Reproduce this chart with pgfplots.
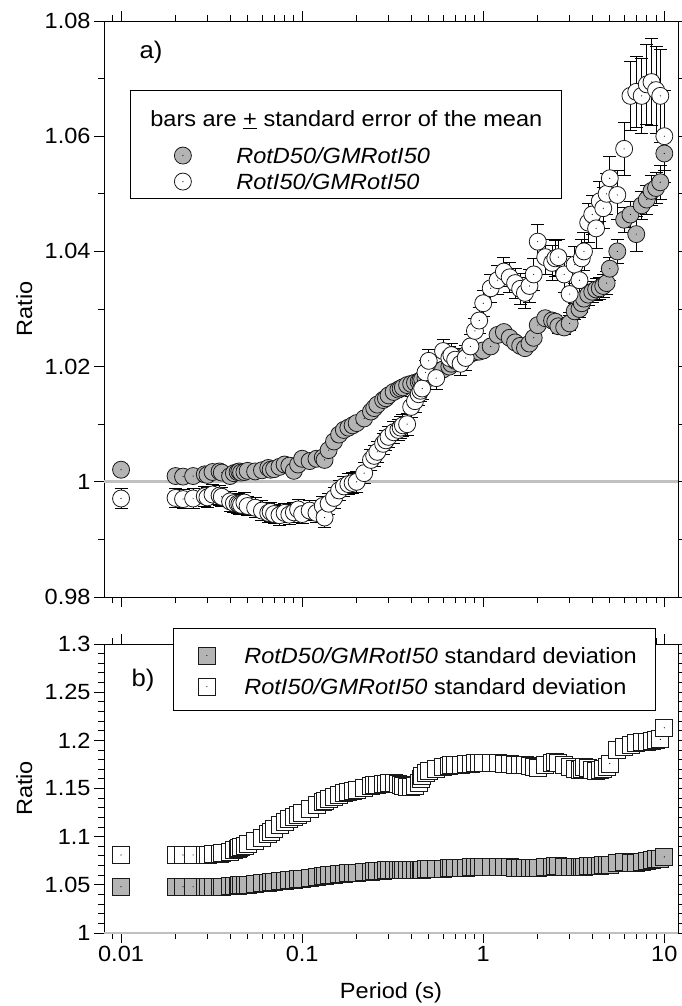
\documentclass[border=0pt]{standalone}
\usepackage{pgfplots}
\pgfplotsset{compat=1.18}
\usepackage{pgfplotstable}
\usepackage{fontspec}
\setmainfont{Liberation Sans}[FakeStretch=1.07]
\definecolor{mgray}{RGB}{180,180,180}
\definecolor{mline}{RGB}{25,25,25}
\definecolor{lgray}{RGB}{192,192,192}

\pgfdeclareplotmark{circD}{%
 \pgfpathcircle{\pgfpointorigin}{\pgfplotmarksize}%
 \pgfsetfillcolor{mgray}\pgfsetstrokecolor{mline}%
 \pgfusepathqfillstroke
 \pgfpathcircle{\pgfpointorigin}{0.6pt}%
 \pgfsetfillcolor{black}\pgfusepathqfill}
\pgfdeclareplotmark{circI}{%
 \pgfpathcircle{\pgfpointorigin}{\pgfplotmarksize}%
 \pgfsetfillcolor{white}\pgfsetstrokecolor{mline}%
 \pgfusepathqfillstroke
 \pgfpathcircle{\pgfpointorigin}{0.6pt}%
 \pgfsetfillcolor{black}\pgfusepathqfill}
\pgfdeclareplotmark{sqD}{%
 \pgfpathrectangle{\pgfpoint{-\pgfplotmarksize}{-\pgfplotmarksize}}{\pgfpoint{2\pgfplotmarksize}{2\pgfplotmarksize}}%
 \pgfsetfillcolor{mgray}\pgfsetstrokecolor{mline}%
 \pgfusepathqfillstroke
 \pgfpathcircle{\pgfpointorigin}{0.6pt}%
 \pgfsetfillcolor{black}\pgfusepathqfill}
\pgfdeclareplotmark{sqI}{%
 \pgfpathrectangle{\pgfpoint{-\pgfplotmarksize}{-\pgfplotmarksize}}{\pgfpoint{2\pgfplotmarksize}{2\pgfplotmarksize}}%
 \pgfsetfillcolor{white}\pgfsetstrokecolor{mline}%
 \pgfusepathqfillstroke
 \pgfpathcircle{\pgfpointorigin}{0.6pt}%
 \pgfsetfillcolor{black}\pgfusepathqfill}

% T  RotD50/GMRotI50 (mean, s.e.)  RotI50/GMRotI50 (mean, s.e.)
\pgfplotstableread{
T D De I Ie
0.01 1.0021 0.0004 0.9971 0.0018
0.02 1.0010 0.0004 0.9972 0.0017
0.022 1.0009 0.0004 0.9970 0.0017
0.025 1.0010 0.0004 0.9971 0.0017
0.029 1.0013 0.0004 0.9975 0.0017
0.03 1.0012 0.0004 0.9973 0.0017
0.032 1.0017 0.0004 0.9978 0.0017
0.035 1.0018 0.0004 0.9976 0.0017
0.036 1.0016 0.0004 0.9974 0.0017
0.04 1.0010 0.0004 0.9966 0.0017
0.042 1.0015 0.0004 0.9963 0.0017
0.044 1.0017 0.0004 0.9962 0.0017
0.045 1.0018 0.0004 0.9961 0.0017
0.046 1.0016 0.0004 0.9960 0.0017
0.048 1.0017 0.0004 0.9964 0.0017
0.05 1.0019 0.0004 0.9958 0.0017
0.055 1.0018 0.0004 0.9955 0.0017
0.06 1.0020 0.0004 0.9950 0.0017
0.065 1.0024 0.0004 0.9946 0.0017
0.067 1.0021 0.0004 0.9948 0.0017
0.07 1.0022 0.0004 0.9944 0.0017
0.075 1.0026 0.0004 0.9942 0.0017
0.08 1.0030 0.0004 0.9946 0.0017
0.085 1.0028 0.0004 0.9943 0.0017
0.09 1.0019 0.0004 0.9947 0.0017
0.095 1.0030 0.0004 0.9952 0.0017
0.1 1.0040 0.0004 0.9944 0.0017
0.11 1.0036 0.0004 0.9950 0.0017
0.12 1.0040 0.0004 0.9946 0.0017
0.13 1.0042 0.0004 0.9958 0.0017
0.133 1.0038 0.0004 0.9938 0.0018
0.14 1.0055 0.0004 0.9962 0.0018
0.15 1.0070 0.0004 0.9972 0.0018
0.16 1.0082 0.0004 0.9985 0.0018
0.17 1.0090 0.0004 0.9992 0.0018
0.18 1.0094 0.0004 0.9996 0.0018
0.19 1.0098 0.0004 0.9998 0.0018
0.2 1.0102 0.0004 1.0000 0.0018
0.22 1.0110 0.0004 1.0015 0.0018
0.24 1.0122 0.0004 1.0038 0.0018
0.25 1.0128 0.0004 1.0045 0.0018
0.26 1.0134 0.0004 1.0052 0.0018
0.28 1.0142 0.0004 1.0066 0.0018
0.29 1.0145 0.0004 1.0072 0.0018
0.3 1.0150 0.0004 1.0078 0.0018
0.32 1.0156 0.0004 1.0086 0.0019
0.34 1.0160 0.0004 1.0090 0.0019
0.35 1.0162 0.0004 1.0094 0.0019
0.36 1.0164 0.0004 1.0098 0.0019
0.38 1.0168 0.0004 1.0100 0.0019
0.4 1.0170 0.0005 1.0130 0.0019
0.42 1.0172 0.0005 1.0140 0.0019
0.44 1.0174 0.0005 1.0152 0.0019
0.45 1.0176 0.0005 1.0158 0.0019
0.46 1.0178 0.0005 1.0162 0.0019
0.48 1.0180 0.0005 1.0190 0.0020
0.5 1.0180 0.0005 1.0210 0.0020
0.55 1.0185 0.0005 1.0180 0.0020
0.6 1.0195 0.0005 1.0227 0.0020
0.65 1.0200 0.0005 1.0215 0.0020
0.667 1.0205 0.0005 1.0220 0.0020
0.7 1.0210 0.0005 1.0212 0.0020
0.75 1.0215 0.0005 1.0205 0.0021
0.8 1.0220 0.0005 1.0215 0.0021
0.85 1.0222 0.0005 1.0235 0.0021
0.9 1.0225 0.0006 1.0262 0.0022
0.95 1.0226 0.0006 1.0280 0.0022
1 1.0228 0.0006 1.0310 0.0023
1.1 1.0235 0.0007 1.0336 0.0024
1.2 1.0255 0.0007 1.0350 0.0025
1.3 1.0260 0.0007 1.0365 0.0025
1.4 1.0250 0.0008 1.0355 0.0026
1.5 1.0242 0.0008 1.0345 0.0026
1.6 1.0236 0.0008 1.0335 0.0027
1.7 1.0232 0.0009 1.0328 0.0027
1.8 1.0240 0.0009 1.0340 0.0028
1.9 1.0250 0.0009 1.0360 0.0028
2 1.0272 0.0010 1.0417 0.0030
2.2 1.0284 0.0010 1.0390 0.0030
2.4 1.0280 0.0011 1.0380 0.0030
2.5 1.0278 0.0011 1.0388 0.0031
2.6 1.0270 0.0012 1.0390 0.0031
2.8 1.0268 0.0012 1.0360 0.0031
3 1.0275 0.0013 1.0326 0.0032
3.2 1.0296 0.0014 1.0377 0.0032
3.4 1.0300 0.0015 1.0350 0.0032
3.5 1.0310 0.0016 1.0388 0.0033
3.6 1.0318 0.0017 1.0400 0.0033
3.8 1.0325 0.0018 1.0450 0.0034
4 1.0330 0.0018 1.0464 0.0034
4.2 1.0334 0.0019 1.0440 0.0035
4.4 1.0336 0.0019 1.0487 0.0035
4.6 1.0340 0.0020 1.0475 0.0036
4.8 1.0345 0.0020 1.0500 0.0036
5 1.0370 0.0020 1.0527 0.0038
5.5 1.0400 0.0021 1.0498 0.0042
6 1.0455 0.0022 1.0578 0.0046
6.5 1.0464 0.0022 1.0670 0.0060
7 1.0430 0.0030 1.0677 0.0062
7.5 1.0480 0.0024 1.0670 0.0065
8 1.0490 0.0025 1.0690 0.0070
8.5 1.0505 0.0026 1.0694 0.0075
9 1.0510 0.0027 1.0680 0.0075
9.5 1.0520 0.0030 1.0670 0.0080
10 1.0570 0.0030 1.0600 0.0080
}\dataA

% T  standard deviation ratios
\pgfplotstableread{
T SD SI
0.01 1.048 1.081
0.02 1.048 1.081
0.022 1.048 1.081
0.025 1.048 1.081
0.029 1.048 1.081
0.03 1.048 1.081
0.032 1.048 1.082
0.035 1.048 1.082
0.036 1.048 1.083
0.04 1.049 1.084
0.042 1.049 1.086
0.044 1.049 1.087
0.045 1.0495 1.088
0.046 1.0495 1.089
0.048 1.050 1.090
0.05 1.050 1.092
0.055 1.051 1.096
0.06 1.052 1.099
0.065 1.052 1.103
0.067 1.053 1.105
0.07 1.053 1.108
0.075 1.054 1.112
0.08 1.054 1.115
0.085 1.055 1.118
0.09 1.055 1.121
0.095 1.056 1.123
0.1 1.056 1.125
0.11 1.057 1.129
0.12 1.058 1.133
0.13 1.059 1.136
0.133 1.059 1.137
0.14 1.060 1.139
0.15 1.060 1.141
0.16 1.061 1.143
0.17 1.061 1.145
0.18 1.062 1.147
0.19 1.062 1.148
0.2 1.062 1.149
0.22 1.063 1.151
0.24 1.063 1.153
0.25 1.064 1.154
0.26 1.064 1.154
0.28 1.064 1.155
0.29 1.065 1.155
0.3 1.065 1.156
0.32 1.065 1.156
0.34 1.065 1.155
0.35 1.065 1.154
0.36 1.065 1.153
0.38 1.066 1.152
0.4 1.066 1.152
0.42 1.066 1.153
0.44 1.066 1.156
0.45 1.066 1.160
0.46 1.066 1.163
0.48 1.067 1.166
0.5 1.067 1.168
0.55 1.067 1.170
0.6 1.067 1.172
0.65 1.068 1.173
0.667 1.068 1.174
0.7 1.068 1.175
0.75 1.068 1.175
0.8 1.068 1.176
0.85 1.069 1.176
0.9 1.069 1.177
0.95 1.069 1.177
1 1.069 1.177
1.1 1.069 1.177
1.2 1.069 1.177
1.3 1.069 1.176
1.4 1.069 1.176
1.5 1.068 1.175
1.6 1.068 1.175
1.7 1.068 1.174
1.8 1.068 1.173
1.9 1.068 1.172
2 1.068 1.171
2.2 1.069 1.174
2.4 1.069 1.177
2.5 1.070 1.178
2.6 1.070 1.177
2.8 1.069 1.175
3 1.069 1.172
3.2 1.069 1.170
3.4 1.069 1.169
3.5 1.069 1.170
3.6 1.069 1.172
3.8 1.070 1.171
4 1.070 1.169
4.2 1.070 1.168
4.4 1.070 1.169
4.6 1.071 1.170
4.8 1.071 1.172
5 1.071 1.176
5.5 1.073 1.190
6 1.074 1.193
6.5 1.073 1.195
7 1.073 1.197
7.5 1.074 1.198
8 1.075 1.198
8.5 1.076 1.199
9 1.077 1.200
9.5 1.077 1.201
10 1.079 1.213
}\dataB

\begin{document}
\begin{tikzpicture}[font=\fontsize{22}{26}\selectfont]
\useasboundingbox (0,0) rectangle (681pt,-1006pt);
% ---------- panel a ----------
\begin{axis}[
  scale only axis, width=574pt, height=576pt,
  at={(104pt,-21pt)}, anchor=north west,
  xmode=log, xmin=0.00805, xmax=11.9,
  xtick={0.01,0.1,1,10},
  minor xtick={0.008,0.009,0.02,0.03,0.04,0.05,0.06,0.07,0.08,0.09,0.2,0.3,0.4,0.5,0.6,0.7,0.8,0.9,2,3,4,5,6,7,8,9},
  tick align=outside, major tick length=10pt, minor tick length=6pt,
  tick style={black, line width=0.9pt},
  axis line style={line width=0.9pt},
  yticklabel style={/pgf/number format/fixed, /pgf/number format/precision=2, /pgf/number format/assume math mode=true},
  ymin=0.98, ymax=1.08,
  ytick={0.98,1,1.02,1.04,1.06,1.08},
  minor ytick={0.99,1.01,1.03,1.05,1.07},
  xticklabels={},
  ylabel={Ratio},
  ylabel style={at={(axis description cs:-0.139,0.5)}, anchor=center},
  legend cell align=left,
  legend image code/.code={\path (0pt,0pt) (66pt,0pt); \draw[#1] plot coordinates {(33pt,0pt)};},
  legend style={at={(rel axis cs:0.0453,0.880)}, anchor=north west,
    draw=black, line width=0.9pt, fill=white, inner xsep=19pt, inner ysep=4pt,
    row sep=0pt, /tikz/every odd column/.append style={column sep=20pt},
    nodes={inner sep=0pt, text depth=, text height=}},
]
\addplot[lgray, line width=3pt, forget plot] coordinates {(0.00805,1) (11.9,1)};
\addlegendimage{empty legend}
\addlegendentry{\hspace{-86pt}\rule[-16pt]{0pt}{48pt}bars are \underline{+} standard error of the mean}
% error bars drawn first, markers on top
\addplot[forget plot, only marks, mark=none,
  error bars/y dir=both, error bars/y explicit,
  error bars/error bar style={line width=0.9pt, draw=black},
  error bars/error mark options={line width=0.9pt, draw=black, mark size=6.5pt, rotate=90}]
  table[x=T, y=D, y error=De] {\dataA};
\addplot[only marks, mark=circD, mark size=8.5pt, mark options={line width=0.8pt}]
  table[x=T, y=D] {\dataA};
\addlegendentry{\rule[-5pt]{0pt}{26pt}\textit{RotD50/GMRotI50}}
\addplot[forget plot, only marks, mark=none,
  error bars/y dir=both, error bars/y explicit,
  error bars/error bar style={line width=0.9pt, draw=black},
  error bars/error mark options={line width=0.9pt, draw=black, mark size=6.5pt, rotate=90}]
  table[x=T, y=I, y error=Ie] {\dataA};
\addplot[only marks, mark=circI, mark size=8.5pt, mark options={line width=0.8pt}]
  table[x=T, y=I] {\dataA};
\addlegendentry{\rule[-5pt]{0pt}{26pt}\textit{RotI50/GMRotI50}}
\node[font=\fontsize{24}{28}\selectfont] at (rel axis cs:0.082,0.946) {a)};
\end{axis}
% ---------- panel b ----------
\begin{axis}[
  scale only axis, width=574pt, height=289pt,
  at={(104pt,-644pt)}, anchor=north west,
  xmode=log, xmin=0.00805, xmax=11.9,
  xtick={0.01,0.1,1,10},
  minor xtick={0.008,0.009,0.02,0.03,0.04,0.05,0.06,0.07,0.08,0.09,0.2,0.3,0.4,0.5,0.6,0.7,0.8,0.9,2,3,4,5,6,7,8,9},
  tick align=outside, major tick length=10pt, minor tick length=6pt,
  tick style={black, line width=0.9pt},
  axis line style={line width=0.9pt},
  yticklabel style={/pgf/number format/fixed, /pgf/number format/precision=2, /pgf/number format/assume math mode=true},
  ymin=1, ymax=1.3,
  ytick={1,1.05,1.1,1.15,1.2,1.25,1.3},
  minor ytick={1.01,1.02,1.03,1.04,1.06,1.07,1.08,1.09,1.11,1.12,1.13,1.14,1.16,1.17,1.18,1.19,1.21,1.22,1.23,1.24,1.26,1.27,1.28,1.29},
  xticklabels={0.01,0.1,1,10},
  xlabel={Period (s)},
  xlabel style={at={(axis description cs:0.5,-0.2076)}, anchor=center},
  ylabel={Ratio},
  ylabel style={at={(axis description cs:-0.139,0.5)}, anchor=center},
  legend cell align=left,
  legend image code/.code={\path (0pt,0pt) (31pt,0pt); \draw[#1] plot coordinates {(14pt,0pt)};},
  legend style={at={(rel axis cs:0.1202,1.055)}, anchor=north west,
    draw=black, line width=0.9pt, fill=white, inner xsep=19pt, inner ysep=10pt,
    row sep=0pt, /tikz/every odd column/.append style={column sep=20pt},
    nodes={inner sep=0pt, text depth=, text height=}},
]
\addplot[lgray, line width=3pt, forget plot] coordinates {(0.00805,1) (11.9,1)};
\addplot[only marks, mark=sqD, mark size=8.5pt, mark options={line width=0.8pt}]
  table[x=T, y=SD] {\dataB};
\addlegendentry{\rule[-9pt]{0pt}{34pt}\textit{RotD50/GMRotI50} standard deviation}
\addplot[only marks, mark=sqI, mark size=8.5pt, mark options={line width=0.8pt}]
  table[x=T, y=SI] {\dataB};
\addlegendentry{\rule[-6pt]{0pt}{28pt}\textit{RotI50/GMRotI50} standard deviation}
\node[font=\fontsize{24}{28}\selectfont] at (rel axis cs:0.068,0.875) {b)};
\end{axis}
\end{tikzpicture}
\end{document}
